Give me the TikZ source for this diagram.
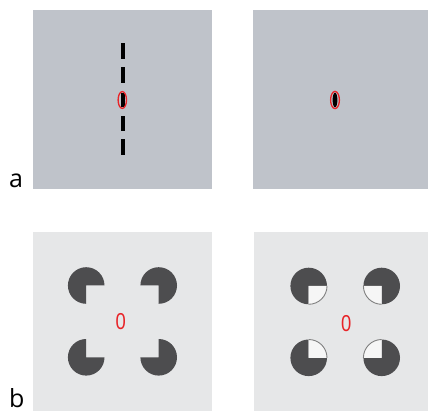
\documentclass[tikz,border=0pt]{standalone}
\usepackage{fontspec}
\setmainfont{Open Sans}
\newfontfamily\digitfont{Liberation Sans}
\usetikzlibrary{calc}
\definecolor{panelA}{RGB}{191,195,202}
\definecolor{panelB}{RGB}{230,231,232}
\definecolor{pacdark}{RGB}{77,77,79}
\definecolor{fixred}{RGB}{232,36,40}
\definecolor{wedgelight}{RGB}{246,246,246}
% pacman: centre x, centre y, start angle of the missing quarter (y points down)
\newcommand{\pacman}[3]{%
  \fill[pacdark] (#1,#2) -- ++(#3+90:18.3) arc[start angle=#3+90, end angle=#3+360, radius=18.3] -- cycle;}
% full disc whose quarter is light, with a grey rim
\newcommand{\pacfull}[3]{%
  \pacman{#1}{#2}{#3}
  \fill[wedgelight] (#1,#2) -- ++(#3:18.3) arc[start angle=#3, end angle=#3+90, radius=18.3] -- cycle;
  \draw[gray, line width=0.9] ($(#1,#2)+(#3:18.3)$) arc[start angle=#3, end angle=#3+90, radius=18.3];}
\begin{document}
\begin{tikzpicture}[x=1pt, y=-1pt,
  panellabel/.style={anchor=base west, inner sep=0pt, text depth=0pt, font=\fontsize{25}{25}\selectfont},
  fixdigit/.style={fixred, inner sep=0pt, font=\digitfont\fontsize{23}{23}\selectfont, xscale=0.8}]
\useasboundingbox (0,0) rectangle (428,411);
% panels
\fill[panelA] (33,10) rectangle (212,189);
\fill[panelA] (253,10) rectangle (428,189);
\fill[panelB] (33,232) rectangle (212,411);
\fill[panelB] (254,232) rectangle (428,411);
\node[panellabel] (labelA) at (9,188) {a};
\node[panellabel] (labelB) at (9,407.5) {b};
% a, left: dashed line through the fixation mark
\foreach \ya/\yb in {43.5/59.5, 67.5/83, 93/107, 116/131.5, 139.5/155.5}
  \fill[black] (121,\ya) rectangle (125,\yb);
\draw[fixred, line width=1.3] (122.3,100) ellipse [x radius=4.2, y radius=8.4];
% a, right: fixation mark alone
\fill[black] (335,100) ellipse [x radius=2.4, y radius=7.4];
\draw[fixred, line width=1.3] (335,100) ellipse [x radius=4.4, y radius=8.6];
% b, left: inducers with missing quarters
\pacman{86.2}{285.5}{0}
\pacman{158.7}{285.5}{90}
\pacman{86.2}{357.3}{270}
\pacman{158.7}{357.3}{180}
\node[fixdigit] (zeroL) at (120.8,322) {0};
% b, right: quarters filled in
\pacfull{308.7}{286}{0}
\pacfull{381.7}{286}{90}
\pacfull{308.7}{357.8}{270}
\pacfull{381.7}{357.8}{180}
\node[fixdigit] (zeroR) at (346.2,323.5) {0};
\end{tikzpicture}
\end{document}
